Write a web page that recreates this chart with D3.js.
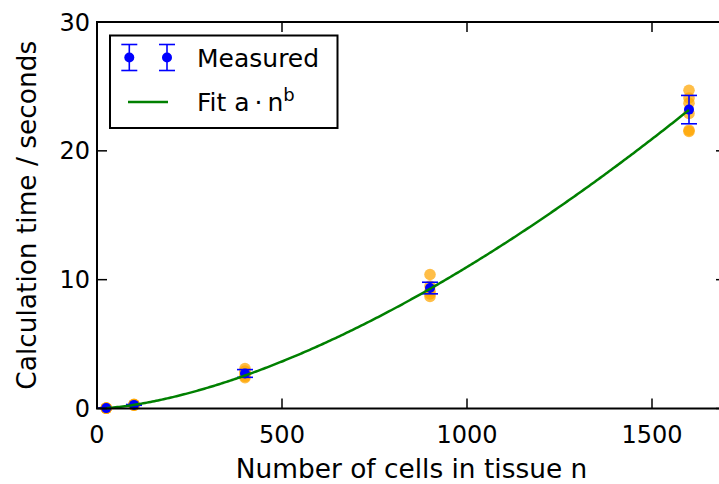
<!DOCTYPE html>
<html><head><meta charset="utf-8">
<script src="https://cdn.jsdelivr.net/npm/d3@7"></script>
<style>
html,body{margin:0;padding:0;background:#fff;}
svg{display:block;font-family:"DejaVu Sans",sans-serif;}
</style></head>
<body><svg id="c" width="719" height="484"></svg>
<script>
// ---- data ----
const cellCounts = [25, 100, 400, 900, 1600];
const samples25   = [0.03, 0.02, 0.04, 0.03, 0.02];
const samples100  = [0.32, 0.28, 0.25, 0.30, 0.27];
const samples400  = [3.1, 2.9, 2.7, 2.5, 2.4];
const samples900  = [10.4, 9.5, 9.1, 8.9, 8.7];
const samples1600 = [24.7, 24.1, 23.7, 22.9, 21.6, 21.5];
const meanTimes = [0.03, 0.28, 2.72, 9.35, 23.2];
const stdErrors = [0.01, 0.03, 0.3, 0.45, 1.1];
const fitA = 1.878e-4, fitB = 1.589;
const xTicks = [0, 500, 1000, 1500];
const yTicks = [0, 10, 20, 30];
const xLabel = "Number of cells in tissue n";
const yLabel = "Calculation time / seconds";

const sampleSets = [samples25, samples100, samples400, samples900, samples1600];

const svg = d3.select("#c");
const L = 97, T = 22, B = 408.5;
const x = d3.scaleLinear().domain([0, 1700]).range([L, L + 1700 * 0.37]);
const y = d3.scaleLinear().domain([0, 30]).range([B, T]);
const R = x(1700);
const tickLen = 10;

svg.append("rect").attr("width", 719).attr("height", 484).attr("fill", "#fff");

// orange samples
const pts = [];
sampleSets.forEach((s, i) => s.forEach(v => pts.push({n: cellCounts[i], v})));
svg.append("g").selectAll("circle").data(pts).join("circle")
  .attr("cx", d => x(d.n)).attr("cy", d => y(d.v)).attr("r", 5.8)
  .attr("fill", "#ffa500").attr("fill-opacity", 0.72);

// error bars
const eb = svg.append("g").attr("stroke", "#0000ff").attr("stroke-width", 1.6);
cellCounts.forEach((n, i) => {
  const cx = x(n), y1 = y(meanTimes[i] + stdErrors[i]), y2 = y(meanTimes[i] - stdErrors[i]);
  eb.append("line").attr("x1", cx).attr("x2", cx).attr("y1", y1).attr("y2", y2);
  eb.append("line").attr("x1", cx - 8).attr("x2", cx + 8).attr("y1", y1).attr("y2", y1);
  eb.append("line").attr("x1", cx - 8).attr("x2", cx + 8).attr("y1", y2).attr("y2", y2);
});
svg.append("g").selectAll("circle").data(cellCounts).join("circle")
  .attr("cx", d => x(d)).attr("cy", (d, i) => y(meanTimes[i])).attr("r", 5)
  .attr("fill", "#0000ff");

// fit curve
const fitN = d3.range(cellCounts[0], cellCounts[cellCounts.length - 1] + 1, 5);
svg.append("path")
  .attr("d", d3.line().x(n => x(n)).y(n => y(fitA * Math.pow(n, fitB)))(fitN))
  .attr("fill", "none").attr("stroke", "#008000").attr("stroke-width", 2.5);

// frame
const fr = svg.append("g").attr("stroke", "#000");
fr.append("rect").attr("x", L).attr("y", T).attr("width", R - L).attr("height", B - T)
  .attr("fill", "none").attr("stroke-width", 2);
xTicks.forEach(t => {
  fr.append("line").attr("x1", x(t)).attr("x2", x(t)).attr("y1", B).attr("y2", B - tickLen).attr("stroke-width", 1.5);
  fr.append("line").attr("x1", x(t)).attr("x2", x(t)).attr("y1", T).attr("y2", T + tickLen).attr("stroke-width", 1.5);
});
yTicks.forEach(t => {
  fr.append("line").attr("y1", y(t)).attr("y2", y(t)).attr("x1", L).attr("x2", L + tickLen).attr("stroke-width", 1.5);
  fr.append("line").attr("y1", y(t)).attr("y2", y(t)).attr("x1", R).attr("x2", R - tickLen).attr("stroke-width", 1.5);
});

// tick labels
svg.append("g").selectAll("text").data(xTicks).join("text")
  .attr("x", d => x(d)).attr("y", 443).attr("text-anchor", "middle")
  .attr("font-size", 24).text(d => d);
svg.append("g").selectAll("text").data(yTicks).join("text")
  .attr("x", 90).attr("y", d => y(d) + 8.5).attr("text-anchor", "end")
  .attr("font-size", 24).text(d => d);

// axis labels
svg.append("text").attr("x", (L + R) / 2).attr("y", 478).attr("text-anchor", "middle")
  .attr("font-size", 26.4).text(xLabel);
svg.append("text").attr("transform", `translate(36,${(T + B) / 2}) rotate(-90)`)
  .attr("text-anchor", "middle").attr("font-size", 26.4).text(yLabel);

// legend
const lg = svg.append("g");
lg.append("rect").attr("x", 110).attr("y", 35.5).attr("width", 227.5).attr("height", 92.5)
  .attr("fill", "#fff").attr("stroke", "#000").attr("stroke-width", 2);
[129.3, 167].forEach(cx => {
  const g = lg.append("g").attr("stroke", "#0000ff").attr("stroke-width", 1.6);
  g.append("line").attr("x1", cx).attr("x2", cx).attr("y1", 44.5).attr("y2", 70.5);
  g.append("line").attr("x1", cx - 8).attr("x2", cx + 8).attr("y1", 44.5).attr("y2", 44.5);
  g.append("line").attr("x1", cx - 8).attr("x2", cx + 8).attr("y1", 70.5).attr("y2", 70.5);
  lg.append("circle").attr("cx", cx).attr("cy", 57.5).attr("r", 5).attr("fill", "#0000ff");
});
lg.append("text").attr("x", 197).attr("y", 66.5).attr("font-size", 25).text("Measured");
lg.append("line").attr("x1", 128).attr("x2", 168).attr("y1", 102).attr("y2", 102)
  .attr("stroke", "#008000").attr("stroke-width", 2.5);
const ft = lg.append("text").attr("x", 197).attr("y", 110.5).attr("font-size", 25);
ft.append("tspan").text("Fit a\u2009\u00b7\u2009n");
ft.append("tspan").attr("dy", -10).attr("font-size", 18).text("b");
</script></body></html>
